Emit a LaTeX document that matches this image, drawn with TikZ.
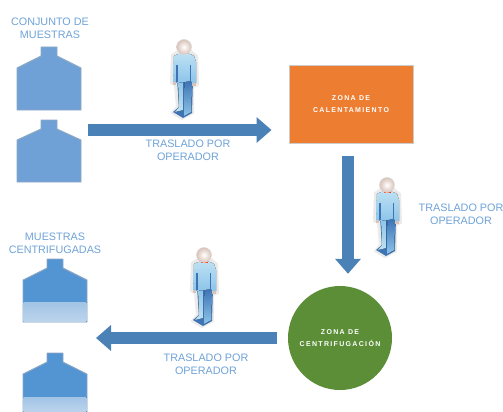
\documentclass[tikz,border=0pt]{standalone}
\usepackage{fontspec}
\setmainfont{Liberation Sans}
\usetikzlibrary{arrows.meta}
\definecolor{bottlefill}{HTML}{6FA1D6}
\definecolor{bottleedge}{HTML}{8FA9C4}
\definecolor{liquid}{HTML}{5394D2}
\definecolor{liquidlow}{HTML}{BCD4EC}
\definecolor{arrowblue}{HTML}{4A81B6}
\definecolor{labelblue}{HTML}{6FA3D8}
\definecolor{zoneorange}{HTML}{ED7D31}
\definecolor{zonegreen}{HTML}{5B8E37}
\definecolor{suitlight}{HTML}{BFE2F3}
\definecolor{suitmid}{HTML}{8CC4EA}
\definecolor{suitdark}{HTML}{3F74B4}
\definecolor{headedge}{HTML}{D9C2B8}
\tikzset{
  x=1pt,y=-1pt,
  lbl/.style={font=\fontsize{10.8}{13.2}\selectfont,text=labelblue,align=center,inner sep=0pt},
  zonetext/.style={font=\bfseries\fontsize{7}{12}\selectfont\addfontfeature{LetterSpace=19},text=white,align=center},
  blockarrow/.style={line width=12.5pt,color=arrowblue,-{Triangle[width=25pt,length=15pt]}},
  bottlebody/.style={draw=bottleedge,line width=.9pt,line join=round},
  person/.pic={
    % halo
    \fill[black!8,line join=round,draw=black!8,line width=2pt]
      (-12,-22) -- (-6,-26) -- (7,-26) -- (13,-21) -- (14,8) -- (9,10) -- (9,36) -- (-2,42) -- (-12,36) -- (-7,30) -- (-9,8) -- (-13,6) -- cycle;
    % legs
    \fill[suitdark] (-7,3) -- (9,3) -- (8,36) -- (-1,41) -- (-11,35) -- (-5,30) -- cycle;
    \fill[top color=suitdark,bottom color=suitmid] (1,4) -- (8,4) -- (7.5,35) -- (0,39) -- (0,32) -- cycle;
    \fill[top color=suitmid,bottom color=suitlight] (-6,4) -- (-1,4) -- (-1,33) -- (-9,35) -- (-5,30) -- cycle;
    % torso
    \fill[top color=suitlight,bottom color=suitmid] (-10,-21) .. controls (-6,-24) and (5,-25) .. (10,-21) -- (12,-15) -- (12,6) -- (8,6) -- (7,4) -- (-7,6) -- (-8,5) -- (-11,5) -- cycle;
    % arm shadows
    \draw[suitdark,line width=1.2pt] (-7,-12) -- (-7,5);
    \draw[suitdark,line width=1pt] (6,-12) -- (6,5);
    % hands
    \fill[headedge] (-11,5) rectangle (-8,8);
    \fill[headedge] (8,6) rectangle (12,9);
    % collar
    \fill[red!70!orange] (-3,-25) rectangle (4,-22.5);
    % head
    \shade[inner color=white,outer color=headedge,draw=black!15,line width=.5pt] (0,-30) circle (7.5);
  }
}
\begin{document}
\begin{tikzpicture}
\useasboundingbox (0,0) rectangle (503,412);
\fill[white] (0,0) rectangle (503,412);
% sample bottles
\draw[bottlebody,fill=bottlefill] (41,47) -- (57,47) -- (57,56) -- (81,68) -- (81,110) -- (17,110) -- (17,68) -- (41,56) -- cycle;
\draw[bottlebody,fill=bottlefill] (41,120) -- (57,120) -- (57,129) -- (81,140) -- (81,182) -- (17,182) -- (17,140) -- (41,129) -- cycle;
\coordinate (b2) at (81,130);
% centrifuged bottles
\draw[bottlebody,fill=liquid] (47,259) -- (63,259) -- (63,268) -- (87,280) -- (87,322) -- (23,322) -- (23,280) -- (47,268) -- cycle;
\fill[top color=liquidlow!75!liquid,bottom color=liquidlow] (23.5,302) rectangle (86.5,321.5);
\draw[bottlebody,fill=liquid] (47,353) -- (63,353) -- (63,362) -- (87,374) -- (87,420) -- (23,420) -- (23,374) -- (47,362) -- cycle;
\fill[top color=liquidlow!75!liquid,bottom color=liquidlow] (23.5,397) rectangle (86.5,412);
\coordinate (b3) at (87,338);
% labels
\node[lbl] (t1) at (50,28) {CONJUNTO DE\\MUESTRAS};
\node[lbl] (t2) at (55,243) {MUESTRAS\\CENTRIFUGADAS};
\node[lbl] (t3) at (188,150) {TRASLADO POR\\OPERADOR};
\node[lbl] (t4) at (461,214) {TRASLADO POR\\OPERADOR};
\node[lbl] (t5) at (206,364) {TRASLADO POR\\OPERADOR};
% zones
\node[draw=black!20,line width=1pt,fill=zoneorange,minimum width=124pt,minimum height=77pt,inner sep=0pt,zonetext] (zr) at (351,104.5) {ZONA DE\\CALENTAMIENTO};
\node[circle,fill=zonegreen,minimum size=104pt,inner sep=0pt,zonetext] (zc) at (340,338) {ZONA DE\\CENTRIFUGACIÓN};
% arrows
\draw[blockarrow] ([xshift=7pt]b2) -- ([xshift=-17pt,yshift=-25.5pt]zr.west);
\draw[blockarrow] ([xshift=-3pt,yshift=-12pt]zr.south) -- ([xshift=8pt,yshift=12pt]zc.north);
\draw[blockarrow] ([xshift=-11pt]zc.west) -- ([xshift=9pt]b3);
% operators
\pic at (184,77) {person};
\pic at (387,215) {person};
\pic at (204,285) {person};
\end{tikzpicture}
\end{document}
